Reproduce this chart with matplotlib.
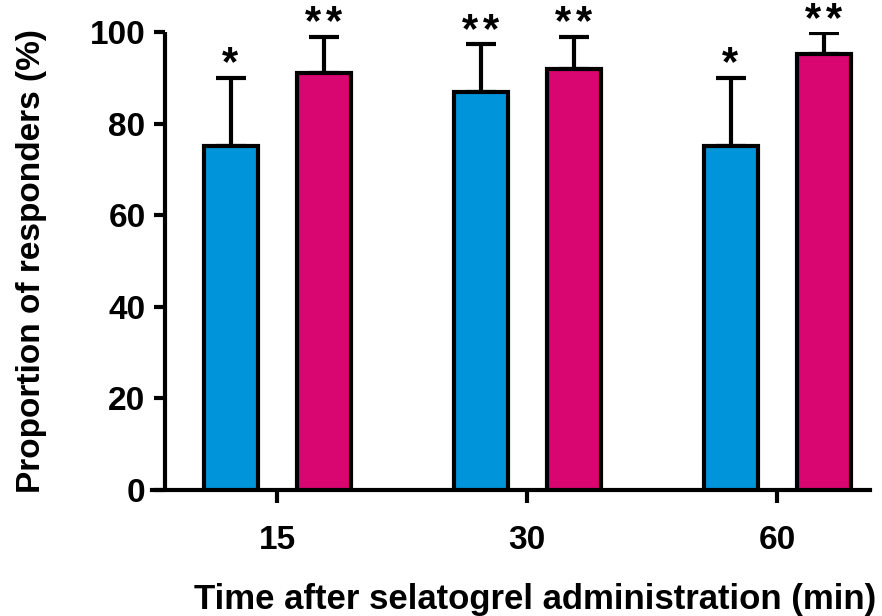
import matplotlib
matplotlib.use("Agg")
import matplotlib.pyplot as plt
import numpy as np

plt.rcParams['font.family'] = ['Liberation Sans', 'DejaVu Sans']
plt.rcParams['font.weight'] = 'bold'

categories = ["15", "30", "60"]
blue_vals = [75, 87, 75]
blue_err = [15, 10.3, 15]
pink_vals = [91, 92, 95.2]
pink_err = [8, 7, 4.5]
blue_marks = ["*", "**", "*"]
pink_marks = ["**", "**", "**"]
yticks = [0, 20, 40, 60, 80, 100]

W, H = 882, 616
fig = plt.figure(figsize=(W/100, H/100), dpi=100)
ax = fig.add_axes([152/W, (H-490)/H, (870-152)/W, 458/H])

blue = "#0094DB"
pink = "#D90570"
x = np.arange(len(categories))
off = 0.186
bw = 0.216
lw = 3.0
ax.bar(x - off, blue_vals, bw, color=blue, edgecolor="black", linewidth=lw, zorder=3)
ax.bar(x + off, pink_vals, bw, color=pink, edgecolor="black", linewidth=lw, zorder=3)
ax.errorbar(x - off, blue_vals, yerr=[np.zeros(3), blue_err], fmt="none", ecolor="black",
            elinewidth=lw, capsize=11, capthick=lw, zorder=2)
ax.errorbar(x + off, pink_vals, yerr=[np.zeros(3), pink_err], fmt="none", ecolor="black",
            elinewidth=lw, capsize=11, capthick=lw, zorder=2)


def stars(xs, tops, marks):
    for xi, t, m in zip(xs, tops, marks):
        n = len(m)
        for i in range(n):
            dx = (i - (n - 1) / 2) * 14.5
            ax.annotate("*", (xi, t), xytext=(dx, 2), textcoords="offset points",
                        ha="center", va="baseline", fontsize=30, fontweight="bold",
                        annotation_clip=False)


stars(x - off, np.array(blue_vals) + np.array(blue_err), blue_marks)
stars(x + off, np.array(pink_vals) + np.array(pink_err), pink_marks)

ax.set_xlim(-0.5, 2.372)
ax.set_ylim(0, 100)
ax.set_yticks(yticks)
ax.set_xticks(x)
ax.set_xticklabels(categories)
for s in ["top", "right"]:
    ax.spines[s].set_visible(False)
ax.spines["left"].set_position(("data", -0.448))
ax.spines["left"].set_linewidth(lw)
ax.spines["bottom"].set_linewidth(lw)
ax.spines["left"].set_capstyle("butt")
ax.tick_params(axis="y", length=8, width=lw, labelsize=24, pad=6)
ax.tick_params(axis="x", length=9, width=lw, labelsize=24, pad=16)
for lab in ax.get_xticklabels() + ax.get_yticklabels():
    lab.set_fontweight("bold")
ax.set_ylabel("Proportion of responders (%)", fontsize=24, fontweight="bold", va="center")
ax.set_xlabel("Time after selatogrel administration (min)", fontsize=25, fontweight="bold", va="center")
ax.xaxis.set_label_coords((535-152)/(870-152), -(600-490)/458)
ax.yaxis.set_label_coords(-(152-32)/(870-152), 0.5)
fig.savefig("out.png", dpi=100)
